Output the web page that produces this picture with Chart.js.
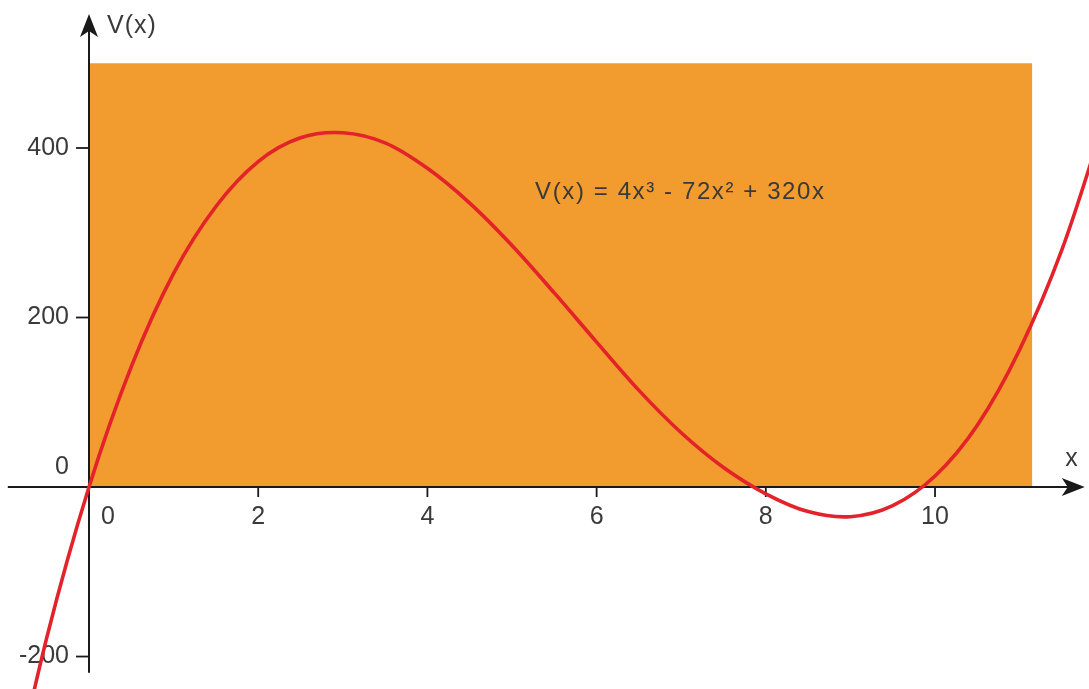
<!DOCTYPE html>
<html>
<head>
<meta charset="utf-8">
<title>V(x)</title>
<script src="https://cdn.jsdelivr.net/npm/chart.js@4"></script>
<style>
  html, body { margin: 0; padding: 0; background: #fff; }
  canvas { display: block; }
</style>
</head>
<body>
<canvas id="myChart" width="1089" height="689"></canvas>
<script>
// curve samples V(x)
const xValues = [-1, -0.5, 0, 0.5, 1, 1.5, 2, 2.5, 3, 3.5, 4, 4.5, 5, 5.5, 6, 6.5, 7, 7.5, 8, 8.5, 9, 9.5, 10, 10.5, 11, 11.5, 12];
const vValues = [-396, -178, 0, 142, 252, 331, 384, 412, 418, 406, 376, 335, 285, 229, 171, 114, 64, 23, -8, -29, -35, -22, 13, 73, 162, 280, 432];

// shaded box behind the curve
const boxX = [0, 11.15];
const boxTop = 500;

// axis ticks and labels
const xTicks = [0, 2, 4, 6, 8, 10];
const xTickLabels = ["0", "2", "4", "6", "8", "10"];
const yTicks = [-200, 0, 200, 400];
const yTickLabels = ["-200", "0", "200", "400"];

const formulaText = "V(x) = 4x\u00b3 - 72x\u00b2 + 320x";

const FONT = "25px 'Liberation Sans', Arial, sans-serif";
const FORMULA_FONT = "24px 'Liberation Sans', Arial, sans-serif";
const INK = "#3a3a3a";

function arrowHead(ctx, tx, ty, dir) {
    // dir: "right" or "up"
    const len = 23, half = 9, notch = 6;
    ctx.beginPath();
    if (dir === "right") {
        ctx.moveTo(tx, ty);
        ctx.lineTo(tx - len, ty - half);
        ctx.lineTo(tx - len + notch, ty);
        ctx.lineTo(tx - len, ty + half);
    } else {
        ctx.moveTo(tx, ty);
        ctx.lineTo(tx - half, ty + len);
        ctx.lineTo(tx, ty + len - notch);
        ctx.lineTo(tx + half, ty + len);
    }
    ctx.closePath();
    ctx.fill();
}

const axesPlugin = {
    id: "axes",
    afterDatasetDraw(chart, args) {
        // draw axes right after the box, so the curve stays on top
        if (args.index !== 1) return;
        const ctx = chart.ctx;
        const xs = chart.scales.x, ys = chart.scales.y;
        const x0 = xs.getPixelForValue(0);
        const y0 = ys.getPixelForValue(0);

        ctx.save();
        ctx.strokeStyle = "#1a1a1a";
        ctx.fillStyle = "#1a1a1a";
        ctx.lineWidth = 2;

        // x axis
        const xRight = xs.getPixelForValue(11.77);
        ctx.beginPath();
        ctx.moveTo(xs.getPixelForValue(-0.96), y0);
        ctx.lineTo(xRight - 10, y0);
        ctx.stroke();
        arrowHead(ctx, xRight, y0, "right");

        // y axis
        const yTop = ys.getPixelForValue(558);
        ctx.beginPath();
        ctx.moveTo(x0, ys.getPixelForValue(-219));
        ctx.lineTo(x0, yTop + 10);
        ctx.stroke();
        arrowHead(ctx, x0, yTop, "up");

        // tick marks
        ctx.lineWidth = 1.8;
        xTicks.forEach((v) => {
            if (v === 0) return;
            const px = xs.getPixelForValue(v);
            ctx.beginPath();
            ctx.moveTo(px, y0);
            ctx.lineTo(px, y0 + 10);
            ctx.stroke();
        });
        yTicks.forEach((v) => {
            if (v === 0) return;
            const py = ys.getPixelForValue(v);
            ctx.beginPath();
            ctx.moveTo(x0 - 13, py);
            ctx.lineTo(x0, py);
            ctx.stroke();
        });

        // tick labels
        ctx.font = FONT;
        ctx.fillStyle = INK;
        ctx.textBaseline = "middle";
        ctx.textAlign = "center";
        xTicks.forEach((v, i) => {
            let px = xs.getPixelForValue(v);
            if (v === 0) px += 19;
            ctx.fillText(xTickLabels[i], px, y0 + 30);
        });
        yTicks.forEach((v, i) => {
            const py = ys.getPixelForValue(v);
            if (v === 0) {
                ctx.textAlign = "center";
                ctx.fillText(yTickLabels[i], x0 - 27, py - 20);
            } else {
                ctx.textAlign = "right";
                ctx.fillText(yTickLabels[i], x0 - 20, py);
            }
        });

        // axis names
        if ("letterSpacing" in ctx) ctx.letterSpacing = "1px";
        ctx.textAlign = "left";
        ctx.fillText("V(x)", x0 + 18, ys.getPixelForValue(544));
        ctx.textAlign = "center";
        ctx.fillText("x", xs.getPixelForValue(11.62), y0 - 28);

        // formula
        ctx.font = FORMULA_FONT;
        if ("letterSpacing" in ctx) ctx.letterSpacing = "1.6px";
        ctx.fillText(formulaText, xs.getPixelForValue(6.99), ys.getPixelForValue(348));
        ctx.restore();
    },
};

new Chart(document.getElementById("myChart"), {
    type: "line",
    data: {
        datasets: [
            {
                label: "V(x)",
                data: xValues.map((x, i) => ({ x: x, y: vValues[i] })),
                borderColor: "#e3222a",
                borderWidth: 3.6,
                pointRadius: 0,
                tension: 0.33,
                fill: false,
            },
            {
                label: "box",
                data: boxX.map((x) => ({ x: x, y: boxTop })),
                borderWidth: 0,
                borderColor: "rgba(0,0,0,0)",
                backgroundColor: "#f29b2e",
                pointRadius: 0,
                fill: "origin",
            },
        ],
    },
    options: {
        responsive: false,
        animation: false,
        devicePixelRatio: 1,
        layout: { padding: 0 },
        scales: {
            x: { type: "linear", min: -1.052, max: 11.82, display: false },
            y: { min: -238.3, max: 574.6, display: false },
        },
        plugins: {
            legend: { display: false },
            tooltip: { enabled: false },
        },
    },
    plugins: [axesPlugin],
});
</script>
</body>
</html>
